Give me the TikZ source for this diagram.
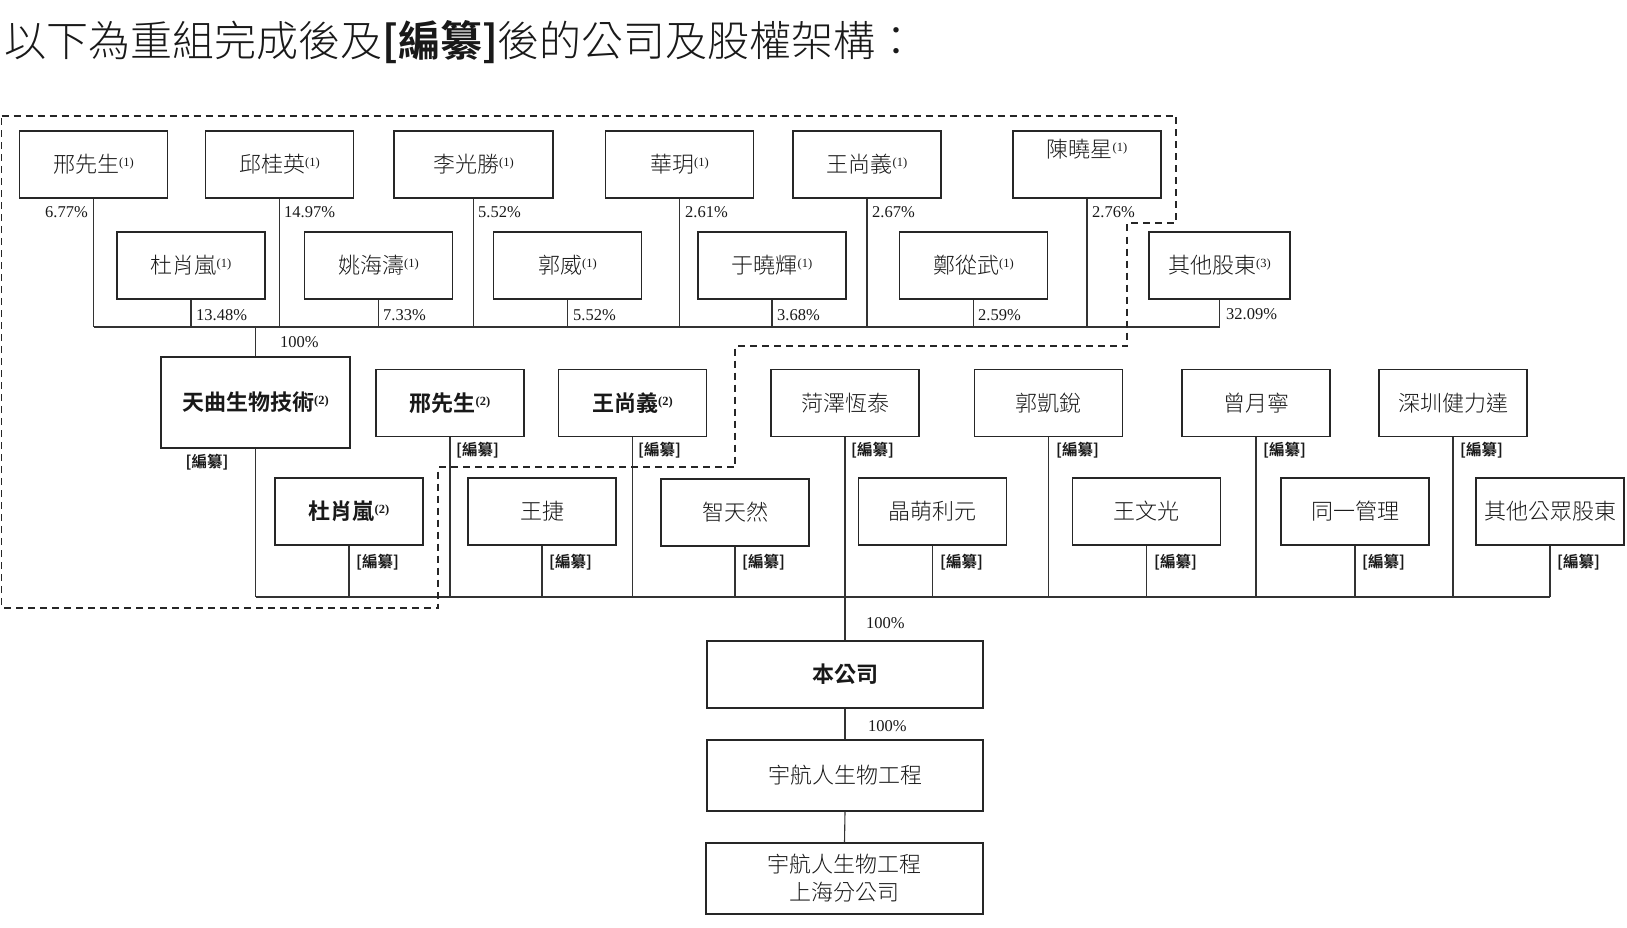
\documentclass[tikz,border=0pt]{standalone}
\usepackage{fontspec}
\setmainfont{Liberation Serif}
\newfontfamily\cjk[BoldFont={Noto Sans CJK TC Bold}]{Noto Sans CJK TC Light}
\newcommand{\supn}[1]{{\rmfamily\fontsize{12.5}{12.5}\selectfont\raisebox{6pt}{(#1)}}}
\begin{document}
\begin{tikzpicture}[x=1pt,y=-1pt,
  box/.style={draw=black!85, line width=1.4pt, minimum width=148pt, minimum height=67pt, inner sep=0pt, font=\cjk\fontsize{22}{28}\selectfont, text=black!90, align=center},
  bbox/.style={box, font=\cjk\bfseries\fontsize{22}{28}\selectfont},
  pct/.style={inner sep=0pt, font=\fontsize{16.5}{16.5}\selectfont, anchor=west, text=black!90},
  redact/.style={inner sep=0pt, font=\cjk\bfseries\fontsize{15.5}{15.5}\selectfont, anchor=west, text=black!90},
  conn/.style={draw=black!80, line width=1.1pt},
  fence/.style={draw=black!85, line width=1.2pt, dash pattern=on 7pt off 5pt}]
\useasboundingbox (0,0) rectangle (1627,928);

% title
\node[anchor=west, inner sep=0pt, font=\cjk\fontsize{42}{42}\selectfont, text=black!90] (title) at (4,42) {以下為重組完成後及{\bfseries[編纂]}後的公司及股權架構：};

% row 1
\node[box] (a1) at (93.5,164.5) {邢先生\supn{1}};
\node[box] (a2) at (279.5,164.5) {邱桂英\supn{1}};
\node[box, minimum width=159pt] (a3) at (473.5,164.5) {李光勝\supn{1}};
\node[box] (a4) at (679.5,164.5) {華玥\supn{1}};
\node[box] (a5) at (867,164.5) {王尚義\supn{1}};
\node[box] (a6) at (1087,164.5) {\raisebox{15pt}[\height][\depth]{陳曉星\supn{1}}};

% row 2
\node[box] (b1) at (191,265.5) {杜肖嵐\supn{1}};
\node[box] (b2) at (378.5,265.5) {姚海濤\supn{1}};
\node[box] (b3) at (567.5,265.5) {郭威\supn{1}};
\node[box] (b4) at (772,265.5) {于曉輝\supn{1}};
\node[box] (b5) at (973.5,265.5) {鄭從武\supn{1}};
\node[box, minimum width=141pt] (b6) at (1219.5,265.5) {其他股東\supn{3}};

% row 3
\node[bbox, minimum width=189pt, minimum height=91pt] (c1) at (255.5,402.5) {天曲生物技術\supn{2}};
\node[bbox] (c2) at (450,403) {邢先生\supn{2}};
\node[bbox] (c3) at (632.5,403) {王尚義\supn{2}};
\node[box] (c4) at (845,403) {菏澤恆泰};
\node[box] (c5) at (1048.5,403) {郭凱銳};
\node[box] (c6) at (1256,403) {曾月寧};
\node[box] (c7) at (1453,403) {深圳健力達};

% row 4
\node[bbox] (d1) at (349,511.5) {杜肖嵐\supn{2}};
\node[box] (d2) at (542,511.5) {王捷};
\node[box] (d3) at (735,512.5) {智天然};
\node[box] (d4) at (932.5,511.5) {晶萌利元};
\node[box] (d5) at (1146.5,511.5) {王文光};
\node[box] (d6) at (1355,511.5) {同一管理};
\node[box] (d7) at (1550,511.5) {其他公眾股東};

% bottom
\node[bbox, minimum width=276pt, minimum height=67pt] (e1) at (845,674.5) {本公司};
\node[box, minimum width=276pt, minimum height=71pt] (e2) at (845,775.5) {宇航人生物工程};
\node[box, minimum width=277pt, minimum height=71pt] (e3) at (844.5,878.5) {宇航人生物工程\\上海分公司};

% buses
\coordinate (busA) at (0,327);
\coordinate (busB) at (0,597);

\foreach \n in {a1,a2,a3,a4,a5,a6,b1,b2,b3,b4,b5,b6}
  \draw[conn] (\n.south) -- (\n.south |- busA);
\draw[conn] (a1.south |- busA) -- (b6.south |- busA);
\draw[conn] (c1.north |- busA) -- (c1.north);

\foreach \n in {c1,c2,c3,c5,c6,c7,d1,d2,d3,d4,d5,d6,d7}
  \draw[conn] (\n.south) -- (\n.south |- busB);
\draw[conn] (c1.south |- busB) -- (d7.south |- busB);
\draw[conn] (c4.south) -- (e1.north);
\draw[conn] (e1.south) -- (e2.north);
\draw[conn] (e2.south) -- (e3.north);

% dashed fence
\draw[fence] (1.5,116) -- (1176,116) -- (1176,223) -- (1127,223) -- (1127,346) -- (735,346) -- (735,467) -- (438,467) -- (438,608) -- (1.5,608) -- cycle;

% percentages
\node[pct, anchor=east] (p1) at (88,212) {6.77\%};
\node[pct] (p2) at (284,212) {14.97\%};
\node[pct] (p3) at (478,212) {5.52\%};
\node[pct] (p4) at (685,212) {2.61\%};
\node[pct] (p5) at (872,212) {2.67\%};
\node[pct] (p6) at (1092,212) {2.76\%};
\node[pct] (q1) at (196,315) {13.48\%};
\node[pct] (q2) at (383,315) {7.33\%};
\node[pct] (q3) at (573,315) {5.52\%};
\node[pct] (q4) at (777,315) {3.68\%};
\node[pct] (q5) at (978,315) {2.59\%};
\node[pct] (q6) at (1226,314) {32.09\%};
\node[pct] (r1) at (280,342) {100\%};
\node[pct] (r2) at (866,623) {100\%};
\node[pct] (r3) at (868,726) {100\%};

% redacted labels
\node[redact, anchor=center] (k1) at (207,462) {[編纂]};
\node[redact] (k2) at (456,450) {[編纂]};
\node[redact] (k3) at (638,450) {[編纂]};
\node[redact] (k4) at (851,450) {[編纂]};
\node[redact] (k5) at (1056,450) {[編纂]};
\node[redact] (k6) at (1263,450) {[編纂]};
\node[redact] (k7) at (1460,450) {[編纂]};
\node[redact] (m1) at (356,562) {[編纂]};
\node[redact] (m2) at (549,562) {[編纂]};
\node[redact] (m3) at (742,562) {[編纂]};
\node[redact] (m4) at (940,562) {[編纂]};
\node[redact] (m5) at (1154,562) {[編纂]};
\node[redact] (m6) at (1362,562) {[編纂]};
\node[redact] (m7) at (1557,562) {[編纂]};
\end{tikzpicture}
\end{document}
